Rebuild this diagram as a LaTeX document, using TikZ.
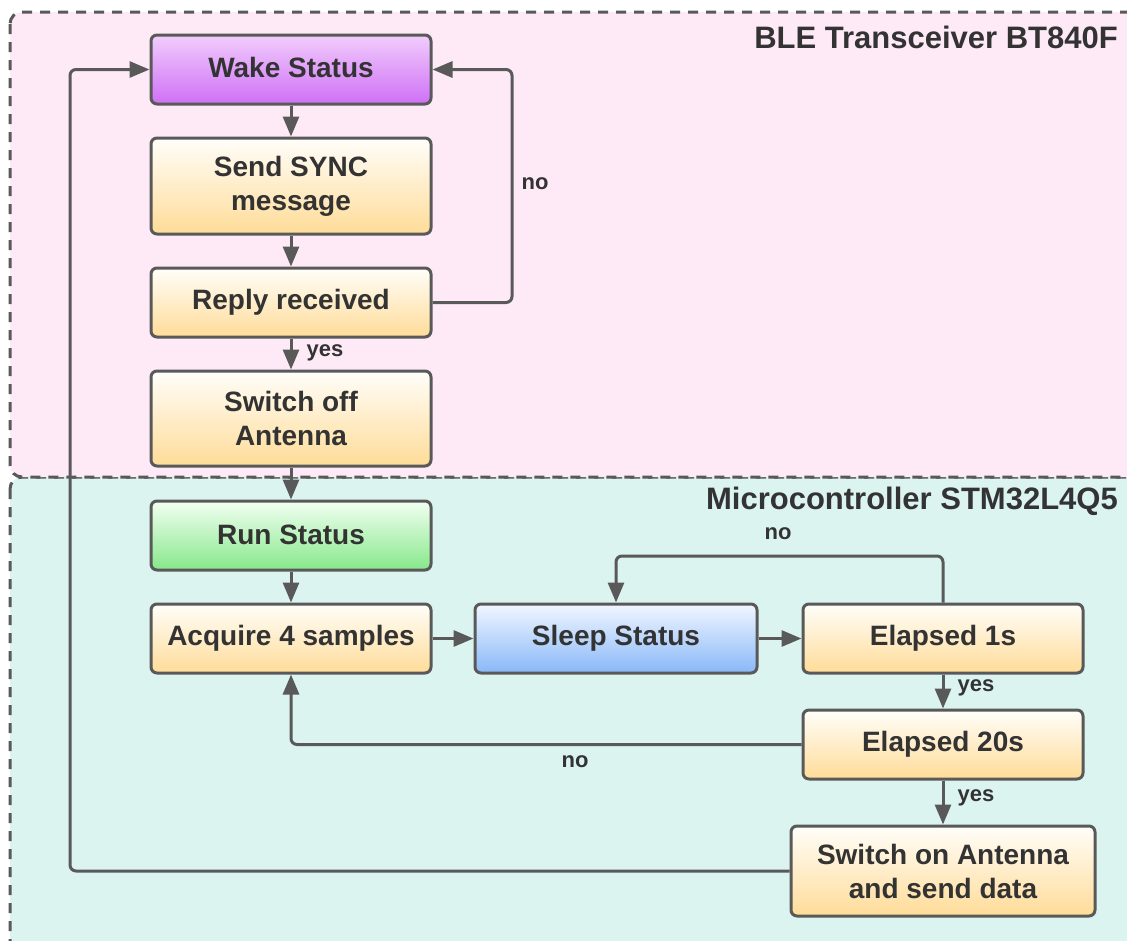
\documentclass[tikz,border=0pt]{standalone}
\usepackage{fontspec}
\setmainfont{Liberation Sans}
\usetikzlibrary{arrows.meta}
\definecolor{edgec}{HTML}{595959}
\definecolor{txtc}{HTML}{333333}
\definecolor{pinkbg}{HTML}{FEEAF6}
\definecolor{cyanbg}{HTML}{DBF4F0}
\definecolor{wtop}{HTML}{F1CDFC}
\definecolor{wbot}{HTML}{CF70F6}
\definecolor{otop}{HTML}{FFFEFA}
\definecolor{obot}{HTML}{FFDC98}
\definecolor{gtop}{HTML}{F2FFF2}
\definecolor{gbot}{HTML}{86E88A}
\definecolor{btop}{HTML}{F2F6FF}
\definecolor{bbot}{HTML}{88B8F8}
\tikzset{
  box/.style={draw=edgec, line width=3pt, rounded corners=6pt, minimum width=280pt,
    minimum height=69pt, inner sep=0pt, align=center, text=txtc,
    font=\fontsize{28}{34}\selectfont\bfseries},
  obox/.style={box, top color=otop, bottom color=obot},
  wbox/.style={box, top color=wtop, bottom color=wbot},
  gbox/.style={box, top color=gtop, bottom color=gbot},
  bbox/.style={box, top color=btop, bottom color=bbot},
  conn/.style={draw=edgec, line width=3pt, rounded corners=6pt,
    -{Triangle[width=16pt,length=20pt]}},
  lbl/.style={text=txtc, font=\fontsize{22}{24}\selectfont\bfseries, inner sep=0pt},
  ttl/.style={text=txtc, font=\fontsize{31}{34}\selectfont\bfseries, inner sep=0pt, anchor=east},
  region/.style={draw=edgec, line width=3pt, dash pattern=on 10pt off 8pt, rounded corners=12pt}
}
\begin{document}
\begin{tikzpicture}[x=1pt,y=-1pt]
\useasboundingbox (0,0) rectangle (1127,940);
\fill[white] (0,0) rectangle (1127,940);
\begin{scope}
\clip (0,0) rectangle (1127,940);
\filldraw[region, fill=cyanbg] (10,477) rectangle (1145,958);
\filldraw[region, fill=pinkbg] (10,12) rectangle (1145,477);
\end{scope}
\node[ttl] (t1) at (1118,37) {BLE Transceiver BT840F};
\node[ttl] (t2) at (1118,501) {Microcontroller STM32L4Q5};

\node[wbox] (wake) at (291,69.5) {\raisebox{4pt}{Wake Status}};
\node[obox, minimum height=96pt] (sync) at (291,186) {Send SYNC\\message};
\node[obox] (reply) at (291,302.5) {Reply received};
\node[obox, minimum height=95pt] (soff) at (291,418.5) {Switch off\\Antenna};
\node[gbox] (run) at (291,535.5) {\raisebox{2pt}{Run Status}};
\node[obox] (acq) at (291,638.5) {Acquire 4 samples};
\node[bbox, minimum width=282pt] (sleep) at (616,638.5) {Sleep Status};
\node[obox] (e1) at (943,638.5) {Elapsed 1s};
\node[obox] (e20) at (943,744.5) {Elapsed 20s};
\node[obox, minimum width=304pt, minimum height=90pt] (son) at (943,871) {Switch on Antenna\\and send data};

\coordinate (lx) at (70,500);
\coordinate (rx) at (512,200);
\coordinate (ty) at (700,556);

\draw[conn] (wake) -- (sync);
\draw[conn] (sync) -- (reply);
\draw[conn] (reply) -- (soff);
\draw[conn] (soff) -- (run);
\draw[conn] (run) -- (acq);
\draw[conn] (reply.east) -- (reply.east -| rx) -- (wake.east -| rx) -- (wake.east);
\draw[conn] (acq) -- (sleep);
\draw[conn] (sleep) -- (e1);
\draw[conn] (e1.north) -- (e1.north |- ty) -- (sleep.north |- ty) -- (sleep.north);
\draw[conn] (e1) -- (e20);
\draw[conn] (e20.west) -- (e20.west -| acq.south) -- (acq.south);
\draw[conn] (e20) -- (son);
\draw[conn] (son.west) -- (son.west -| lx) -- (wake.west -| lx) -- (wake.west);

\node[lbl] (l1) at (325,353) {yes};
\node[lbl] (l2) at (535,184) {no};
\node[lbl] (l3) at (778,534) {no};
\node[lbl] (l4) at (976,688) {yes};
\node[lbl] (l5) at (575,762) {no};
\node[lbl] (l6) at (976,798) {yes};
\end{tikzpicture}
\end{document}
